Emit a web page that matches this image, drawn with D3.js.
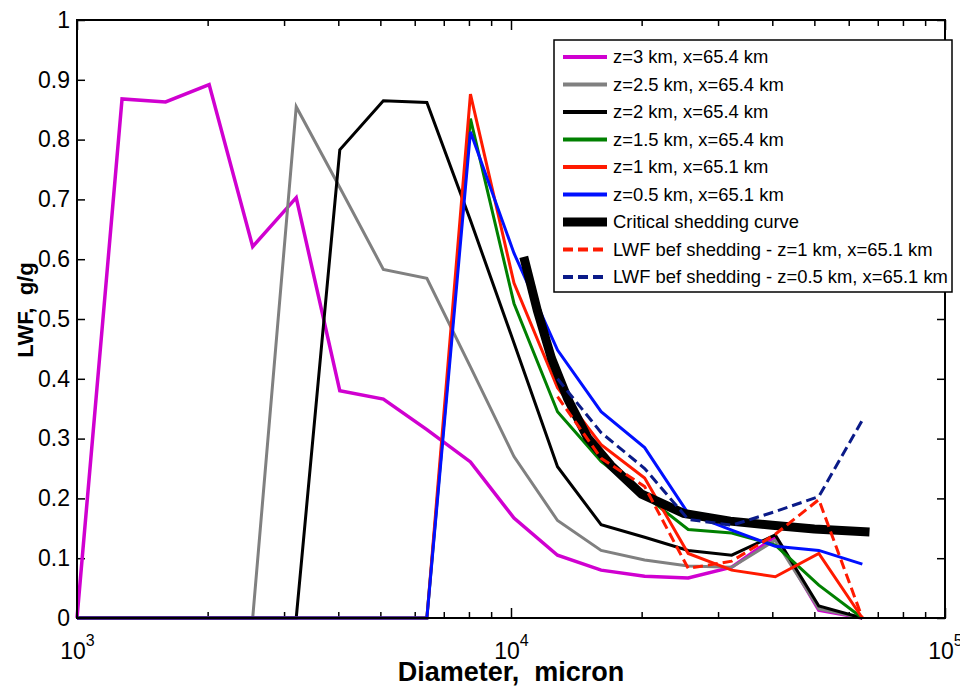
<!DOCTYPE html>
<html>
<head>
<meta charset="utf-8">
<script src="https://cdn.jsdelivr.net/npm/d3@7"></script>
<style>
  body { margin: 0; background: #fff; }
  text { font-family: Arial, "Liberation Sans", sans-serif; }
</style>
</head>
<body>
<div id="viz"></div>
<script>
// LWF vs drop diameter, log x axis

const diameters = [1000, 1270, 1600, 2016, 2540, 3200, 4032, 5080, 6400, 8064, 10160, 12800, 16130, 20320, 25600, 32250, 40640, 51200, 64500];

const lwfZ3    = [0, 0.868, 0.863, 0.892, 0.621, 0.703, 0.380, 0.366, 0.315, 0.261, 0.167, 0.105, 0.080, 0.070, 0.067, 0.085, 0.136, 0.013, 0];
const lwfZ25   = [0, 0, 0, 0, 0, 0.855, 0.720, 0.583, 0.568, 0.420, 0.270, 0.163, 0.113, 0.097, 0.087, 0.085, 0.130, 0.015, 0];
const lwfZ2    = [0, 0, 0, 0, 0, 0, 0.783, 0.865, 0.862, 0.665, 0.460, 0.253, 0.156, 0.135, 0.113, 0.105, 0.139, 0.020, 0];
const lwfZ15   = [0, 0, 0, 0, 0, 0, 0, 0, 0, 0.835, 0.526, 0.345, 0.262, 0.205, 0.148, 0.142, 0.122, 0.055, 0];
const lwfZ1    = [0, 0, 0, 0, 0, 0, 0, 0, 0, 0.876, 0.560, 0.385, 0.290, 0.234, 0.108, 0.080, 0.069, 0.108, 0];
const lwfZ05   = [0, 0, 0, 0, 0, 0, 0, 0, 0, 0.813, 0.610, 0.448, 0.345, 0.285, 0.175, 0.147, 0.120, 0.113, 0.090];

// before shedding, from 12800 micron on
const befDiameters = [12800, 16130, 20320, 25600, 32250, 40640, 51200, 64500];
const befZ1  = [0.370, 0.267, 0.220, 0.083, 0.095, 0.140, 0.198, 0];
const befZ05 = [0.400, 0.310, 0.250, 0.165, 0.155, 0.178, 0.203, 0.331];

const criticalDiameters = [10700, 11500, 12400, 13500, 15000, 17000, 20000, 25000, 32000, 40000, 50000, 67000];
const criticalLwf = [0.604, 0.514, 0.434, 0.367, 0.302, 0.255, 0.207, 0.175, 0.162, 0.155, 0.149, 0.144];

const yTicks = [0, 0.1, 0.2, 0.3, 0.4, 0.5, 0.6, 0.7, 0.8, 0.9, 1];
const xMajor = [1e3, 1e4, 1e5];

const legendLabels = [
    'z=3 km, x=65.4 km',
    'z=2.5 km, x=65.4 km',
    'z=2 km, x=65.4 km',
    'z=1.5 km, x=65.4 km',
    'z=1 km, x=65.1 km',
    'z=0.5 km, x=65.1 km',
    'Critical shedding curve',
    'LWF bef shedding - z=1 km, x=65.1 km',
    'LWF bef shedding - z=0.5 km, x=65.1 km'
];

function drawChart() {
    const dimensions = {
        width: 960,
        height: 687,
        margins: { top: 20, left: 77, right: 15, bottom: 69 }
    };
    dimensions.boundedWidth = dimensions.width - dimensions.margins.left - dimensions.margins.right;
    dimensions.boundedHeight = dimensions.height - dimensions.margins.top - dimensions.margins.bottom;

    const viz = d3.select('#viz').append('svg')
        .attr('width', dimensions.width)
        .attr('height', dimensions.height);

    const bounds = viz.append('g')
        .attr('transform', `translate(${dimensions.margins.left},${dimensions.margins.top})`);

    //scales
    const xScale = d3.scaleLog()
        .domain([1e3, 1e5])
        .range([0, dimensions.boundedWidth]);

    const yScale = d3.scaleLinear()
        .domain([0, 1])
        .range([dimensions.boundedHeight, 0]);

    // minor log ticks
    const xMinor = [];
    [1e3, 1e4].forEach(dec => { for (let m = 2; m <= 9; m++) xMinor.push(dec * m); });

    const tickStyle = g => {
        g.select('.domain').remove();
        g.selectAll('.tick line').attr('stroke', '#000').attr('stroke-width', 1.5);
    };

    bounds.append('g')
        .attr('transform', `translate(0,${dimensions.boundedHeight})`)
        .call(d3.axisBottom(xScale).tickValues(xMinor).tickSize(-6).tickFormat(''))
        .call(tickStyle);
    bounds.append('g')
        .call(d3.axisTop(xScale).tickValues(xMinor).tickSize(-6).tickFormat(''))
        .call(tickStyle);

    const xAxis = bounds.append('g')
        .attr('transform', `translate(0,${dimensions.boundedHeight})`)
        .call(d3.axisBottom(xScale).tickValues(xMajor).tickSize(-10).tickFormat(''))
        .call(tickStyle);
    bounds.append('g')
        .call(d3.axisTop(xScale).tickValues(xMajor).tickSize(-10).tickFormat(''))
        .call(tickStyle);

    // 10^n labels
    xAxis.selectAll('.tick').append('text')
        .attr('y', 41)
        .attr('fill', '#000')
        .attr('text-anchor', 'middle')
        .style('font-size', '23px')
        .each(function(d) {
            const t = d3.select(this);
            t.append('tspan').text('10');
            t.append('tspan')
                .attr('dy', -13)
                .style('font-size', '16px')
                .text(Math.round(Math.log10(d)));
        });

    bounds.append('g')
        .call(d3.axisLeft(yScale).tickValues(yTicks).tickSize(-8).tickPadding(7).tickFormat(d3.format('')))
        .call(tickStyle)
        .call(g => g.selectAll('.tick text')
            .attr('fill', '#000')
            .style('font-size', '23px'));
    bounds.append('g')
        .attr('transform', `translate(${dimensions.boundedWidth},0)`)
        .call(d3.axisRight(yScale).tickValues(yTicks).tickSize(-8).tickFormat(''))
        .call(tickStyle);

    //draw Data
    const line = d3.line()
        .x(d => xScale(d[0]))
        .y(d => yScale(d[1]));

    const series = [
        { x: diameters, y: lwfZ3,  color: '#d000d0', width: 3.5 },
        { x: diameters, y: lwfZ25, color: '#808080', width: 3 },
        { x: diameters, y: lwfZ2,  color: '#000000', width: 3 },
        { x: diameters, y: lwfZ15, color: '#008000', width: 3 },
        { x: diameters, y: lwfZ1,  color: '#ff1a00', width: 3 },
        { x: diameters, y: lwfZ05, color: '#0010ff', width: 3 },
        { x: criticalDiameters, y: criticalLwf, color: '#000000', width: 9 },
        { x: befDiameters, y: befZ1,  color: '#ff1a00', width: 3, dash: '10,5' },
        { x: befDiameters, y: befZ05, color: '#0a1a88', width: 3, dash: '10,5' }
    ];

    series.forEach(s => {
        bounds.append('path')
            .datum(s.x.map((d, i) => [d, s.y[i]]))
            .attr('fill', 'none')
            .attr('stroke', s.color)
            .attr('stroke-width', s.width)
            .attr('stroke-dasharray', s.dash || null)
            .attr('d', line);
    });

    // frame
    bounds.append('rect')
        .attr('width', dimensions.boundedWidth)
        .attr('height', dimensions.boundedHeight)
        .attr('fill', 'none')
        .attr('stroke', '#000')
        .attr('stroke-width', 2);

    // axis titles
    viz.append('text')
        .attr('x', dimensions.margins.left + dimensions.boundedWidth / 2)
        .attr('y', 681)
        .attr('text-anchor', 'middle')
        .style('font-size', '27px')
        .style('font-weight', 'bold')
        .attr('xml:space', 'preserve')
        .text('Diameter,  micron');

    viz.append('text')
        .attr('transform', 'translate(33,310) rotate(-90)')
        .attr('text-anchor', 'middle')
        .style('font-size', '22px')
        .style('font-weight', 'bold')
        .attr('xml:space', 'preserve')
        .text('LWF,  g/g');

    // legend
    const legend = viz.append('g').attr('transform', 'translate(554,40)');
    legend.append('rect')
        .attr('width', 398)
        .attr('height', 252)
        .attr('fill', '#fff')
        .attr('stroke', '#000')
        .attr('stroke-width', 1.5);

    const rows = legend.selectAll('.row')
        .data(series)
        .join('g')
        .attr('transform', (d, i) => `translate(0,${17 + i * 27.5})`);

    rows.append('line')
        .attr('x1', 9).attr('x2', 53)
        .attr('stroke', d => d.color)
        .attr('stroke-width', d => Math.max(d.width, 4))
        .attr('stroke-dasharray', d => d.dash || null);

    rows.append('text')
        .attr('x', 59)
        .attr('dy', '0.35em')
        .style('font-size', '18.4px')
        .text((d, i) => legendLabels[i]);
}

drawChart();
</script>
</body>
</html>
